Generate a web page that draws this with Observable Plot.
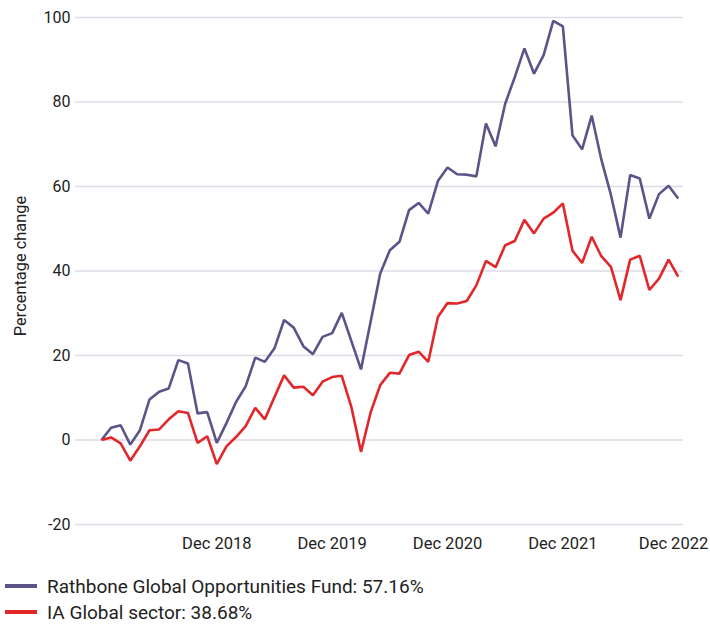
<!DOCTYPE html>
<html>
<head>
<meta charset="utf-8">
<script src="https://cdn.jsdelivr.net/npm/d3@7"></script>
<script src="https://cdn.jsdelivr.net/npm/@observablehq/plot@0.6"></script>
<style>
  html, body { margin: 0; padding: 0; background: #fff; }
  body { width: 710px; height: 625px; overflow: hidden; font-family: Roboto, "Noto Sans", sans-serif; color: #222; }
  #legend { padding-top: 13px; }
  .item { display: flex; align-items: center; height: 26px; font-size: 19px; }
  .sw { display: inline-block; width: 32px; height: 4px; margin-left: 5px; margin-right: 10px; }
</style>
</head>
<body>
<div id="chart"></div>
<div id="legend"></div>
<script>
// Monthly points, Dec 2017 (index 0) to Dec 2022 (index 60)
const fundName = "Rathbone Global Opportunities Fund: 57.16%";
const sectorName = "IA Global sector: 38.68%";
const fundValues = [
  0, 2.9, 3.5, -1.1, 2.3, 9.6, 11.4, 12.2, 18.9, 18.1,
  6.3, 6.6, -0.7, 4.0, 9.0, 12.7, 19.5, 18.5, 21.7, 28.4,
  26.6, 22.2, 20.3, 24.4, 25.3, 30.1, 23.4, 16.7, 28.0, 39.4,
  44.9, 46.9, 54.4, 56.1, 53.6, 61.3, 64.5, 62.9, 62.8, 62.4,
  74.9, 69.5, 79.6, 85.9, 92.7, 86.7, 91.1, 99.2, 97.9, 72.1,
  68.8, 76.8, 66.4, 58.0, 47.9, 62.7, 61.9, 52.4, 58.2, 60.2,
  57.16
];
const sectorValues = [
  0, 0.6, -0.8, -4.9, -1.5, 2.3, 2.5, 4.9, 6.8, 6.4,
  -0.7, 0.9, -5.7, -1.5, 0.7, 3.3, 7.6, 4.9, 10.2, 15.3,
  12.4, 12.6, 10.6, 13.8, 14.9, 15.2, 7.8, -2.8, 6.5, 13.0,
  15.9, 15.7, 20.1, 20.9, 18.5, 29.1, 32.4, 32.3, 32.9, 36.6,
  42.4, 40.9, 46.1, 47.1, 52.1, 48.9, 52.4, 53.8, 56.0, 44.8,
  41.9, 48.1, 43.5, 41.0, 33.1, 42.7, 43.6, 35.5, 38.2, 42.7,
  38.68
];
const xTickIndex = [12, 24, 36, 48, 60];
const xTickLabels = ["Dec 2018", "Dec 2019", "Dec 2020", "Dec 2021", "Dec 2022"];
const yTicks = [-20, 0, 20, 40, 60, 80, 100];
const fundColor = "#5b5489";
const sectorColor = "#e2272b";

const rows = [];
fundValues.forEach((v, i) => rows.push({i, v, s: "fund"}));
sectorValues.forEach((v, i) => rows.push({i, v, s: "sector"}));
const labelOf = new Map(xTickIndex.map((t, k) => [t, xTickLabels[k]]));

const chart = Plot.plot({
  width: 710,
  height: 560,
  marginLeft: 75,
  marginRight: 27,
  marginTop: 17,
  marginBottom: 36,
  style: {fontFamily: "Roboto, 'Noto Sans', sans-serif", fontSize: "16px", color: "#222", background: "#fff"},
  x: {domain: [-2.7, 60.55], label: null},
  y: {domain: [-20, 100], label: null},
  color: {domain: ["fund", "sector"], range: [fundColor, sectorColor]},
  marks: [
    Plot.ruleY(yTicks, {stroke: "#dddbe7", strokeWidth: 1.6}),
    Plot.axisY({ticks: yTicks, tickFormat: d => String(d), tickSize: 0, tickPadding: 5, fontSize: 16, label: null}),
    Plot.axisX({ticks: xTickIndex, tickFormat: d => labelOf.get(d), tickSize: 0, tickPadding: 13, fontSize: 16.5, label: null}),
    Plot.line(rows, {x: "i", y: "v", z: "s", stroke: "s", strokeWidth: 2.6, strokeLinejoin: "miter", strokeLinecap: "butt"})
  ]
});
const svg = d3.select(chart);
// y-axis title
svg.append("text")
  .attr("transform", "translate(22,266) rotate(-90)")
  .attr("text-anchor", "middle")
  .attr("dominant-baseline", "middle")
  .attr("font-size", 16.4)
  .attr("fill", "#222")
  .text("Percentage change");
// keep the last x label inside the frame (right-aligned at the edge)
const xLabels = svg.selectAll("g[aria-label='x-axis tick label'] text").nodes();
if (xLabels.length) {
  const last = d3.select(xLabels[xLabels.length - 1]);
  last.attr("text-anchor", "end").attr("dx", 30);
}
document.getElementById("chart").appendChild(chart);

const legend = document.getElementById("legend");
[[fundName, fundColor], [sectorName, sectorColor]].forEach(([name, col]) => {
  const div = document.createElement("div");
  div.className = "item";
  div.innerHTML = `<span class="sw" style="background:${col}"></span><span>${name}</span>`;
  legend.appendChild(div);
});
</script>
</body>
</html>
